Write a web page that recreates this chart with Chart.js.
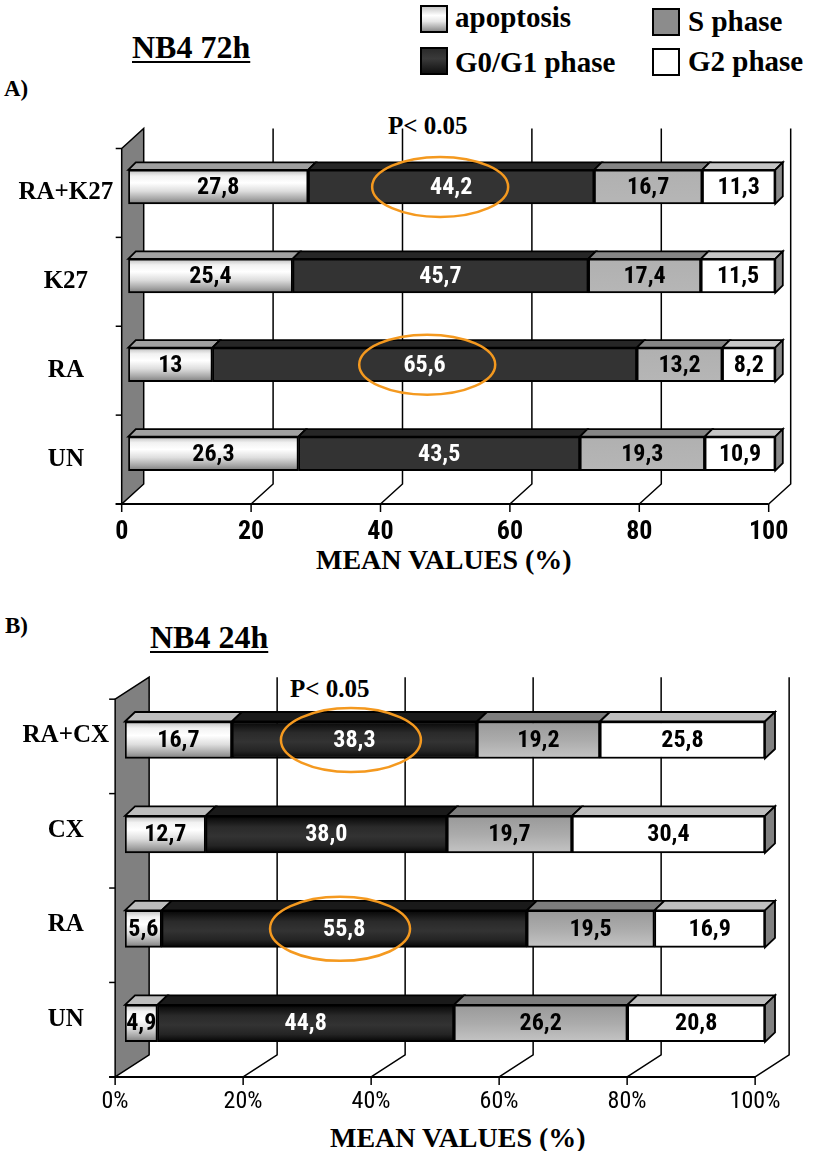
<!DOCTYPE html>
<html>
<head>
<meta charset="utf-8">
<script src="https://cdn.jsdelivr.net/npm/chart.js@4.4.1/dist/chart.umd.min.js"></script>
<style>
  html, body { margin: 0; padding: 0; background: #fff; }
  body { width: 814px; height: 1151px; position: relative; overflow: hidden; font-family: 'Liberation Serif', 'Times New Roman', serif; }
  .t { position: absolute; font-weight: bold; color: #000; white-space: nowrap; line-height: 1; }
  .u { text-decoration: underline; text-decoration-thickness: 2px; text-underline-offset: 3px; }
  .sw { position: absolute; width: 28px; height: 28px; border: 2px solid #000; box-sizing: border-box; }
  canvas { position: absolute; left: 0; }
</style>
</head>
<body>
  <div class="t u" style="left:132px; top:31px; font-size:32px;">NB4 72h</div>
  <div class="t" style="left:4px; top:77px; font-size:23px;">A)</div>

  <div class="sw" style="left:420px; top:5px; background:linear-gradient(#c8c8c8, #ffffff 35%, #e6e6e6 60%, #8c8c8c);"></div>
  <div class="t" style="left:455px; top:3px; font-size:29px;">apoptosis</div>
  <div class="sw" style="left:420px; top:47px; background:linear-gradient(#2a2a2a, #3a3a3a 40%, #111 100%);"></div>
  <div class="t" style="left:455px; top:48px; font-size:29px;">G0/G1 phase</div>
  <div class="sw" style="left:652px; top:8px; background:#8c8c8c;"></div>
  <div class="t" style="left:688px; top:7px; font-size:29px;">S phase</div>
  <div class="sw" style="left:652px; top:48px; background:#fff;"></div>
  <div class="t" style="left:688px; top:47px; font-size:29px;">G2 phase</div>

  <div class="t" style="left:388px; top:113px; font-size:25px;">P&lt; 0.05</div>
  <div class="t" style="left:316px; top:546px; font-size:28px;">MEAN VALUES (%)</div>

  <div class="t" style="left:5px; top:614px; font-size:23px;">B)</div>
  <div class="t u" style="left:150px; top:621px; font-size:32px;">NB4 24h</div>
  <div class="t" style="left:290px; top:676px; font-size:25px;">P&lt; 0.05</div>
  <div class="t" style="left:330px; top:1124px; font-size:28px;">MEAN VALUES (%)</div>

  <canvas id="c72" width="814" height="580" style="top:0px; width:814px; height:580px;"></canvas>
  <canvas id="c24" width="814" height="571" style="top:580px; width:814px; height:571px;"></canvas>

<script>
// ---- NB4 72h: cell-cycle distribution (%), rows top to bottom ----
const groups72h    = ['RA+K27', 'K27', 'RA', 'UN'];
const apoptosis72h = [27.8, 25.4, 13, 26.3];
const g0g1_72h     = [44.2, 45.7, 65.6, 43.5];
const sPhase72h    = [16.7, 17.4, 13.2, 19.3];
const g2_72h       = [11.3, 11.5, 8.2, 10.9];
const ticks72h     = ['0', '20', '40', '60', '80', '100'];
const marked72h    = [{ group: 'RA+K27', at: 48.2 }, { group: 'RA', at: 46.2 }];

// ---- NB4 24h: mean values, drawn as 100% stacked bars ----
const groups24h    = ['RA+CX', 'CX', 'RA', 'UN'];
const apoptosis24h = [16.7, 12.7, 5.6, 4.9];
const g0g1_24h     = [38.3, 38.0, 55.8, 44.8];
const sPhase24h    = [19.2, 19.7, 19.5, 26.2];
const g2_24h       = [25.8, 30.4, 16.9, 20.8];
const ticks24h     = ['0%', '20%', '40%', '60%', '80%', '100%'];
const marked24h    = [{ group: 'RA+CX', at: 35.3 }, { group: 'RA', at: 33.6 }];

const phaseNames = ['apoptosis', 'G0/G1 phase', 'S phase', 'G2 phase'];

const NARROW = "'Liberation Sans Narrow', 'Arial Narrow', 'Roboto Condensed', 'Liberation Sans', sans-serif";
const SERIF = "'Liberation Serif', 'Times New Roman', serif";

// vertical shading of a bar face, built for the row's pixel band
function faceFill(stops, thickness) {
  return (c) => {
    const ys = c.chart.scales.y;
    if (!ys || ys.top === undefined || c.dataIndex === undefined) return stops[Math.floor(stops.length / 2)][1];
    const mid = ys.getPixelForValue(c.dataIndex);
    const g = c.chart.ctx.createLinearGradient(0, mid - thickness / 2, 0, mid + thickness / 2);
    stops.forEach(([p, col]) => g.addColorStop(p, col));
    return g;
  };
}

// floor, back wall, back grid, bar tops and ends, value labels, rings
const depthPlugin = {
  id: 'depth3d',
  beforeDatasetsDraw(chart, args, o) {
    const { ctx, chartArea: ca, scales: { x } } = chart;
    const [dx, dy] = o.floor;
    const fX = -dx * o.front, fY = -dy * o.front;             // bar plane -> front plane
    const bX = dx * (1 - o.front), bY = dy * (1 - o.front);   // bar plane -> back plane
    const topF = ca.top + fY, botF = ca.bottom + fY;
    const topB = ca.top + bY, botB = ca.bottom + bY;
    const vals = x.ticks.map(t => t.value);
    const x0 = x.getPixelForValue(0);
    ctx.save();
    ctx.lineCap = 'butt';
    // back grid
    ctx.strokeStyle = '#000';
    ctx.lineWidth = 1.5;
    vals.filter(v => v > 0).forEach(v => {
      const px = x.getPixelForValue(v) + bX;
      ctx.beginPath(); ctx.moveTo(px, topB); ctx.lineTo(px, botB);
      ctx.lineTo(px - dx, botB - dy); ctx.stroke();
    });
    // front floor edge and ticks
    ctx.lineWidth = 2;
    ctx.beginPath();
    ctx.moveTo(x0 + fX - 6, botF); ctx.lineTo(x.getPixelForValue(100) + fX, botF);
    ctx.stroke();
    ctx.lineWidth = 1.5;
    vals.forEach(v => {
      const px = x.getPixelForValue(v) + fX;
      ctx.beginPath(); ctx.moveTo(px, botF); ctx.lineTo(px, botF + 8); ctx.stroke();
    });
    // side wall
    ctx.beginPath();
    ctx.moveTo(x0 + fX, topF); ctx.lineTo(x0 + bX, topB);
    ctx.lineTo(x0 + bX, botB); ctx.lineTo(x0 + fX, botF); ctx.closePath();
    ctx.fillStyle = '#808080'; ctx.fill();
    ctx.lineWidth = 1.5; ctx.stroke();
    // category ticks on the wall edge
    const n = chart.data.labels.length;
    for (let i = 0; i <= n; i++) {
      const yy = topF + i * (botF - topF) / n;
      ctx.beginPath(); ctx.moveTo(x0 + fX - 6, yy); ctx.lineTo(x0 + fX, yy); ctx.stroke();
    }
    ctx.restore();
  },
  afterDatasetsDraw(chart, args, o) {
    const { ctx } = chart;
    const [bx, by] = o.bar;
    const nSets = chart.data.datasets.length;
    ctx.save();
    ctx.lineWidth = 1.8;
    ctx.strokeStyle = '#000';
    ctx.lineJoin = 'miter';
    chart.data.datasets.forEach((ds, di) => {
      const meta = chart.getDatasetMeta(di);
      meta.data.forEach((el) => {
        const xa = Math.min(el.base, el.x), xb = Math.max(el.base, el.x);
        const yT = el.y - el.height / 2, yB = el.y + el.height / 2;
        ctx.beginPath();
        ctx.moveTo(xa, yT); ctx.lineTo(xa + bx, yT + by);
        ctx.lineTo(xb + bx, yT + by); ctx.lineTo(xb, yT); ctx.closePath();
        ctx.fillStyle = o.topColors[di]; ctx.fill(); ctx.stroke();
        if (di === nSets - 1) {
          ctx.beginPath();
          ctx.moveTo(xb, yT); ctx.lineTo(xb + bx, yT + by);
          ctx.lineTo(xb + bx, yB + by); ctx.lineTo(xb, yB); ctx.closePath();
          ctx.fillStyle = o.endColor; ctx.fill(); ctx.stroke();
        }
      });
    });
    // value labels
    ctx.font = o.labelFont;
    ctx.textAlign = 'center';
    ctx.textBaseline = 'middle';
    chart.data.datasets.forEach((ds, di) => {
      const meta = chart.getDatasetMeta(di);
      meta.data.forEach((el, i) => {
        ctx.fillStyle = di === 1 ? '#fff' : '#000';
        ctx.fillText(ds.shown[i], (el.x + el.base) / 2, el.y + 1);
      });
    });
    ctx.restore();
  },
  afterDraw(chart, args, o) {
    const { ctx, scales: { x, y } } = chart;
    ctx.save();
    ctx.strokeStyle = '#F4991F';
    ctx.lineWidth = 2.5;
    o.rings.forEach(r => {
      const cx = x.getPixelForValue(r.at);
      const cy = y.getPixelForValue(chart.data.labels.indexOf(r.group));
      ctx.beginPath();
      ctx.ellipse(cx, cy, o.ringSize[0], o.ringSize[1], 0, 0, Math.PI * 2);
      ctx.stroke();
    });
    ctx.restore();
  }
};

function buildChart(id, cfg) {
  const sets = cfg.series.map((vals, si) => ({
    label: phaseNames[si],
    data: vals.map((v, i) => cfg.percent ? v / cfg.series.reduce((s, arr) => s + arr[i], 0) * 100 : v),
    shown: vals.map(v => (cfg.percent ? v.toFixed(1) : String(v)).replace('.', ',')),
    backgroundColor: faceFill(cfg.faces[si], cfg.thickness),
    borderColor: '#000',
    borderWidth: 2,
    borderSkipped: false,
    barThickness: cfg.thickness
  }));
  return new Chart(document.getElementById(id), {
    type: 'bar',
    data: { labels: cfg.groups, datasets: sets },
    plugins: [depthPlugin],
    options: {
      indexAxis: 'y',
      responsive: false,
      animation: false,
      layout: { padding: cfg.padding },
      plugins: {
        legend: { display: false },
        tooltip: { enabled: false },
        depth3d: cfg.depth
      },
      scales: {
        x: {
          type: 'linear', stacked: true, min: 0, max: 100,
          grid: { display: false, drawTicks: false },
          border: { display: false },
          ticks: {
            stepSize: 20,
            color: '#000',
            font: cfg.tickFont,
            padding: cfg.tickPad,
            labelOffset: cfg.tickShift,
            maxRotation: 0,
            callback: (v, i) => cfg.ticks[i]
          },
          afterFit: (s) => { s.height = cfg.xHeight; }
        },
        y: {
          type: 'category', stacked: true,
          grid: { display: false, drawTicks: false },
          border: { display: false },
          ticks: {
            color: '#000',
            font: { family: SERIF, size: 25, weight: 'bold' },
            crossAlign: 'center',
            padding: cfg.catPad,
            labelOffset: cfg.catShift
          },
          afterFit: (s) => { s.width = cfg.yWidth; }
        }
      }
    }
  });
}

const shineStops = [[0, '#bcbcbc'], [0.18, '#f2f2f2'], [0.38, '#ffffff'], [0.62, '#dedede'], [0.85, '#a6a6a6'], [1, '#7c7c7c']];

buildChart('c72', {
  groups: groups72h,
  series: [apoptosis72h, g0g1_72h, sPhase72h, g2_72h],
  ticks: ticks72h,
  percent: false,
  thickness: 34,
  faces: [
    shineStops,
    [[0, '#333333'], [1, '#333333']],
    [[0, '#b0b0b0'], [1, '#b6b6b6']],
    [[0, '#ffffff'], [1, '#ffffff']]
  ],
  padding: { left: 0, right: 32, top: 142.5, bottom: 0 },
  yWidth: 128.3,
  xHeight: 82,
  tickFont: { family: NARROW, size: 26, weight: 'bold', lineHeight: 1.2 },
  tickPad: 19,
  tickShift: -6.6,
  catPad: 15,
  catShift: 6,
  depth: {
    floor: [22, -20], front: 0.3, bar: [7.5, -7.5],
    topColors: ['#a0a0a0', '#262626', '#858585', '#c6c6c6'],
    endColor: '#8a8a8a',
    labelFont: 'bold 24px ' + NARROW,
    rings: marked72h, ringSize: [68, 30]
  }
});

buildChart('c24', {
  groups: groups24h,
  series: [apoptosis24h, g0g1_24h, sPhase24h, g2_24h],
  ticks: ticks24h,
  percent: true,
  thickness: 37,
  faces: [
    shineStops,
    [[0, '#050505'], [0.3, '#2a2a2a'], [0.55, '#333333'], [0.8, '#242424'], [1, '#050505']],
    [[0, '#999999'], [0.5, '#ababab'], [1, '#c4c4c4']],
    [[0, '#ffffff'], [1, '#ffffff']]
  ],
  padding: { left: 0, right: 49, top: 112.8, bottom: 0 },
  yWidth: 125,
  xHeight: 80.5,
  tickFont: { family: NARROW, size: 24, weight: 'normal', lineHeight: 1.2 },
  tickPad: 17,
  tickShift: -10,
  catPad: 16,
  catShift: -4,
  depth: {
    floor: [34, -22], front: 0.29, bar: [10, -9.5],
    topColors: ['#bdbdbd', '#1a1a1a', '#7d7d7d', '#bfbfbf'],
    endColor: '#808080',
    labelFont: 'bold 24px ' + NARROW,
    rings: marked24h, ringSize: [70, 32]
  }
});
</script>
</body>
</html>
